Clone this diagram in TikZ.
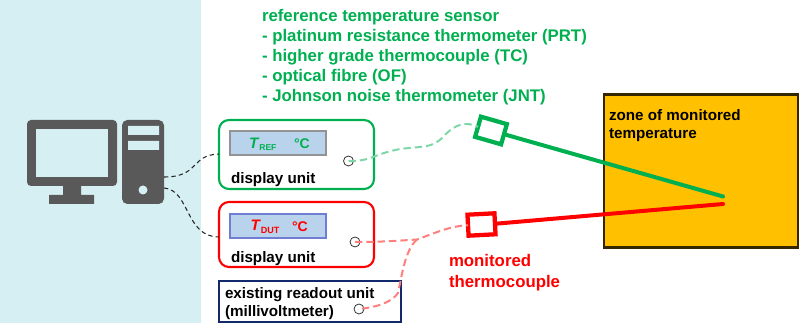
\documentclass[tikz,border=0pt]{standalone}
\usepackage{fontspec}
\setmainfont{Liberation Sans}
\definecolor{panel}{HTML}{D6EFF2}
\definecolor{icon}{HTML}{595959}
\definecolor{tgreen}{HTML}{00B050}
\definecolor{lgreen}{HTML}{7FD7A7}
\definecolor{lred}{HTML}{FF7F7F}
\definecolor{screenfill}{HTML}{B9D3EC}
\definecolor{zone}{HTML}{FFC000}
\definecolor{navy}{HTML}{12296B}
\def\u{0.75pt}
\tikzset{
  x=0.75pt,y=-0.75pt,
  every node/.style={inner sep=0pt,outer sep=0pt,font=\bfseries\fontsize{11.4}{13.8}\selectfont,align=left},
  unitbox/.style={draw,line width=1.6pt,rounded corners=7.5pt,minimum width=155*\u},
  screenbox/.style={draw,line width=0.9pt,fill=screenfill,minimum width=96*\u,minimum height=24*\u},
  port/.style={circle,draw=black!80,line width=0.6pt,minimum size=10*\u},
  sensor/.style={draw,line width=3.2pt,fill=white,minimum width=27*\u,minimum height=21*\u},
  wire/.style={dashed,line width=1.5pt,dash pattern=on 5.5pt off 3pt},
  blackwire/.style={dashed,line width=0.8pt,dash pattern=on 3.2pt off 2.4pt,black!85},
  probe/.style={line width=3pt,line cap=round},
  lab/.style={anchor=west},
  headtext/.style={font=\bfseries\fontsize{12.6}{15}\selectfont}
}
\begin{document}
\begin{tikzpicture}
\useasboundingbox (0,0) rectangle (799,323);
\fill[panel] (0,0) rectangle (201,323);
% computer icon
\fill[icon,rounded corners=3pt] (27,120) rectangle (117,186);
\fill[panel] (36,129) rectangle (108,177);
\fill[icon] (63,185) rectangle (81,196) (49,195) rectangle (94,204);
\node[fill=icon,rounded corners=4pt,minimum width=42*\u,minimum height=84*\u] (tower) at (143,162) {};
\fill[panel] (128,126) rectangle (159,135) (128,141) rectangle (159,150);
\fill[panel] (143,190) circle[radius=4.5];
% zone
\node[draw=black!80!zone,fill=zone,line width=2.2pt,minimum width=194*\u,minimum height=153*\u] (zonebox) at (701,171) {};
\node[lab,anchor=north west] (zonetext) at (609,109) {zone of monitored\\temperature};
% units
\node[unitbox,draw=tgreen,minimum height=69*\u] (unitg) at (296.5,154.5) {};
\node[unitbox,draw=red,minimum height=65*\u] (unitr) at (296.5,234.5) {};
\node[draw=navy,line width=1.5pt,minimum width=182*\u,minimum height=41*\u] (unitn) at (310,301.5) {};
\node[screenbox,draw=gray!85] (screeng) at (278,143) {};
\node[screenbox,draw=gray!40!screenfill!70!blue] (screenr) at (278,226) {};
\node[lab,text=tgreen] (tref) at (249,144) {\textit{T}\raisebox{-0.3ex}{\fontsize{6.4}{6.4}\selectfont REF}};
\node[lab,text=tgreen] (cg) at (294,143.5) {\fontsize{10.5}{12}\selectfont °C};
\node[lab,text=red] (tdut) at (250.5,227) {\textit{T}\raisebox{-0.3ex}{\fontsize{6.8}{6.8}\selectfont DUT}};
\node[lab,text=red] (cr) at (292,227) {\fontsize{10.5}{12}\selectfont °C};
\node[lab] (dg) at (231,180) {display unit};
\node[lab] (dr) at (231,259) {display unit};
\node[lab,anchor=north west,font=\bfseries\fontsize{11.4}{14}\selectfont] (dn) at (225,287) {existing readout unit\\(millivoltmeter)};
\node[port] (pg) at (348.5,161) {};
\node[port] (pr) at (355,242) {};
\node[port] (pn) at (359,309) {};
% heading
\node[lab,anchor=north west,text=tgreen,headtext] (head) at (262,9) {reference temperature sensor\\- platinum resistance thermometer (PRT)\\- higher grade thermocouple (TC)\\- optical fibre (OF)\\- Johnson noise thermometer (JNT)};
\node[lab,anchor=north west,text=red,font=\bfseries\fontsize{12.6}{15.7}\selectfont] (mon) at (449,254) {monitored\\thermocouple};
% probes
\node[sensor,draw=tgreen,rotate=-16] (sg) at (491,130.5) {};
\node[sensor,draw=red,rotate=3] (sr) at (481.5,224.5) {};
\coordinate (tipg) at (723,196.5);
\coordinate (tipr) at (723,204);
\draw[probe,tgreen] (sg.east) -- (tipg);
\draw[probe,red] (sr.east) -- (tipr);
% wires
\draw[wire,lgreen] (pg.center) .. controls +(25,0) and +(-30,6) .. (400,149) .. controls (425,146) and (432,148) .. (443,137) .. controls (455,124) and (465,121) .. (sg.west);
\coordinate (junction) at (417,239.5);
\draw[wire,lred] (pr.center) .. controls +(20,0) and +(-30,2) .. (junction) .. controls (435,233) and (450,226) .. (sr.west);
\draw[wire,lred] (junction) .. controls (405,250) and (402,275) .. (398,293) .. controls (392,302) and (378,307) .. (pn.center);
\draw[blackwire] (tower.east |- 0,177) .. controls (200,177) and (190,155) .. (219,154);
\draw[blackwire] (tower.east |- 0,188) .. controls (190,190) and (185,237) .. (219,237);
\end{tikzpicture}
\end{document}
